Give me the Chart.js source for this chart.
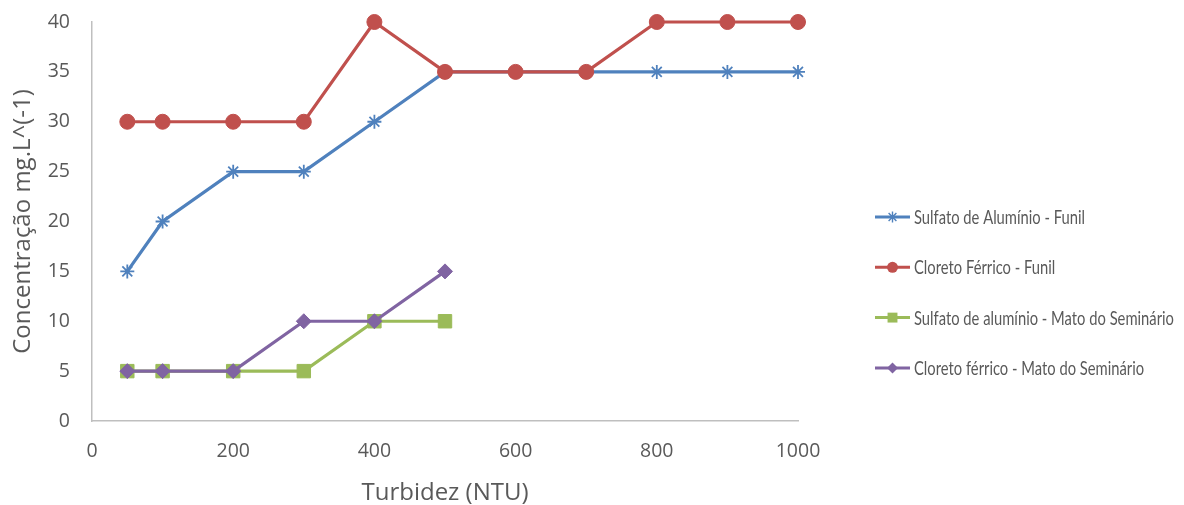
<!DOCTYPE html>
<html>
<head>
<meta charset="utf-8">
<script src="https://cdn.jsdelivr.net/npm/chart.js@4/dist/chart.umd.min.js"></script>
<style>
  html, body { margin: 0; padding: 0; background: #ffffff; }
  #wrap { width: 1184px; height: 505px; position: relative; }
</style>
</head>
<body>
<div id="wrap"><canvas id="chart" width="1184" height="505"></canvas></div>
<script>
// Turbidity (NTU) for each test run
const turbidezFunil = [50, 100, 200, 300, 400, 500, 600, 700, 800, 900, 1000];
const turbidezMato  = [50, 100, 200, 300, 400, 500];

// Coagulant concentration (mg.L^-1)
const sulfatoFunil = [15, 20, 25, 25, 30, 35, 35, 35, 35, 35, 35];
const cloretoFunil = [30, 30, 30, 30, 40, 35, 35, 35, 40, 40, 40];
const sulfatoMato  = [5, 5, 5, 5, 10, 10];
const cloretoMato  = [5, 5, 5, 10, 10, 15];

const seriesNames = [
  'Sulfato de Alumínio - Funil',
  'Cloreto Férrico - Funil',
  'Sulfato de alumínio - Mato do Seminário',
  'Cloreto férrico - Mato do Seminário'
];

const xTickValues = [0, 200, 400, 600, 800, 1000];
const yTickValues = [0, 5, 10, 15, 20, 25, 30, 35, 40];

const axisTitleX = 'Turbidez (NTU)';
const axisTitleY = 'Concentração mg.L^(-1)';

const AXIS_FONT = '"Open Sans", Lato, sans-serif';
const LEGEND_FONT = 'Lato, "Open Sans", sans-serif';
const TEXT = '#595959';

function pairs(xs, ys) { return xs.map((x, i) => ({ x: x, y: ys[i] })); }

const styles = [
  { color: '#4f81bd', point: 'star',    radius: 7,   bw: 1.8 },
  { color: '#c0504d', point: 'circle',  radius: 7.5, bw: 1 },
  { color: '#9bbb59', point: 'rect',    radius: 9.5, bw: 1 },
  { color: '#8064a2', point: 'rectRot', radius: 7.5, bw: 1 }
];
const seriesData = [
  pairs(turbidezFunil, sulfatoFunil),
  pairs(turbidezFunil, cloretoFunil),
  pairs(turbidezMato, sulfatoMato),
  pairs(turbidezMato, cloretoMato)
];
const drawOrder = [3, 2, 1, 0];

const datasets = seriesNames.map((name, i) => ({
  label: name,
  data: seriesData[i],
  borderColor: styles[i].color,
  backgroundColor: styles[i].color,
  pointBackgroundColor: styles[i].color,
  pointBorderColor: styles[i].color,
  pointStyle: styles[i].point,
  pointRadius: styles[i].radius,
  pointHoverRadius: styles[i].radius,
  pointBorderWidth: styles[i].bw,
  borderWidth: 3.2,
  tension: 0,
  fill: false,
  clip: false,
  order: drawOrder[i]
}));

// Legend: a short line with the series marker, then the name (condensed)
function drawMarker(ctx, type, x, y, r, color, bw) {
  ctx.save();
  ctx.fillStyle = color;
  ctx.strokeStyle = color;
  ctx.lineWidth = bw;
  ctx.beginPath();
  if (type === 'circle') {
    ctx.arc(x, y, r, 0, Math.PI * 2);
    ctx.fill();
  } else if (type === 'rect') {
    const s = Math.SQRT1_2 * r;
    ctx.rect(x - s, y - s, 2 * s, 2 * s);
    ctx.fill();
  } else if (type === 'rectRot') {
    ctx.moveTo(x - r, y); ctx.lineTo(x, y - r); ctx.lineTo(x + r, y); ctx.lineTo(x, y + r);
    ctx.closePath();
    ctx.fill();
  } else if (type === 'star') {
    const d = r * Math.SQRT1_2;
    ctx.moveTo(x - d, y - d); ctx.lineTo(x + d, y + d);
    ctx.moveTo(x - d, y + d); ctx.lineTo(x + d, y - d);
    ctx.moveTo(x, y - r); ctx.lineTo(x, y + r);
    ctx.moveTo(x - r, y); ctx.lineTo(x + r, y);
    ctx.stroke();
  }
  ctx.restore();
}

const sideLegend = {
  id: 'sideLegend',
  afterDraw(chart, args, opts) {
    const ctx = chart.ctx;
    ctx.save();
    ctx.font = opts.fontSize + 'px ' + LEGEND_FONT;
    const ref = ctx.measureText(seriesNames[0]).width;
    const sx = opts.firstWidth / ref;
    chart.data.datasets.forEach((ds, i) => {
      const y = opts.top + i * opts.spacing;
      ctx.strokeStyle = ds.borderColor;
      ctx.lineWidth = 3;
      ctx.beginPath();
      ctx.moveTo(opts.x, y);
      ctx.lineTo(opts.x + opts.lineLen, y);
      ctx.stroke();
      drawMarker(ctx, ds.pointStyle, opts.x + opts.lineLen / 2, y,
                 ds.pointStyle === 'rect' ? 7 : 5.5, ds.borderColor, 1.4);
      ctx.save();
      ctx.translate(opts.x + opts.lineLen + opts.gap, y);
      ctx.scale(sx, 1);
      ctx.fillStyle = TEXT;
      ctx.textBaseline = 'middle';
      ctx.textAlign = 'left';
      ctx.fillText(ds.label, 0, 1);
      ctx.restore();
    });
    ctx.restore();
  }
};

new Chart(document.getElementById('chart'), {
  type: 'line',
  data: { datasets: datasets },
  plugins: [sideLegend],
  options: {
    responsive: false,
    animation: false,
    devicePixelRatio: 1,
    layout: { padding: { top: 22, right: 386, bottom: 0, left: 0 } },
    plugins: {
      legend: { display: false },
      tooltip: { enabled: false },
      sideLegend: { x: 875, lineLen: 35, gap: 4, top: 217, spacing: 50.3, fontSize: 19, firstWidth: 171 }
    },
    scales: {
      x: {
        type: 'linear',
        min: 0,
        max: 1000,
        afterBuildTicks(scale) { scale.ticks = xTickValues.map(v => ({ value: v })); },
        afterFit(scale) { scale.height = 84; scale.paddingLeft = 0; scale.paddingRight = 0; },
        grid: { display: false, drawTicks: false },
        border: { display: true, color: '#bfbfbf', width: 1.5 },
        ticks: { color: TEXT, font: { family: AXIS_FONT, size: 19.5 }, padding: 19, maxRotation: 0,
                 callback: v => String(v) },
        title: { display: true, text: axisTitleX, color: TEXT,
                 font: { family: AXIS_FONT, size: 24, lineHeight: 1 }, padding: { top: 0, bottom: 0 } }
      },
      y: {
        type: 'linear',
        min: 0,
        max: 40,
        afterBuildTicks(scale) { scale.ticks = yTickValues.map(v => ({ value: v })); },
        afterFit(scale) { scale.width = 92; scale.paddingTop = 0; scale.paddingBottom = 0; },
        grid: { display: false, drawTicks: false },
        border: { display: true, color: '#bfbfbf', width: 1.5 },
        ticks: { color: TEXT, font: { family: AXIS_FONT, size: 19.5 }, padding: 22, callback: v => String(v) },
        title: { display: true, text: axisTitleY, color: TEXT,
                 font: { family: AXIS_FONT, size: 24, lineHeight: 1 }, padding: { top: 11, bottom: 0 } }
      }
    }
  }
});
</script>
</body>
</html>
